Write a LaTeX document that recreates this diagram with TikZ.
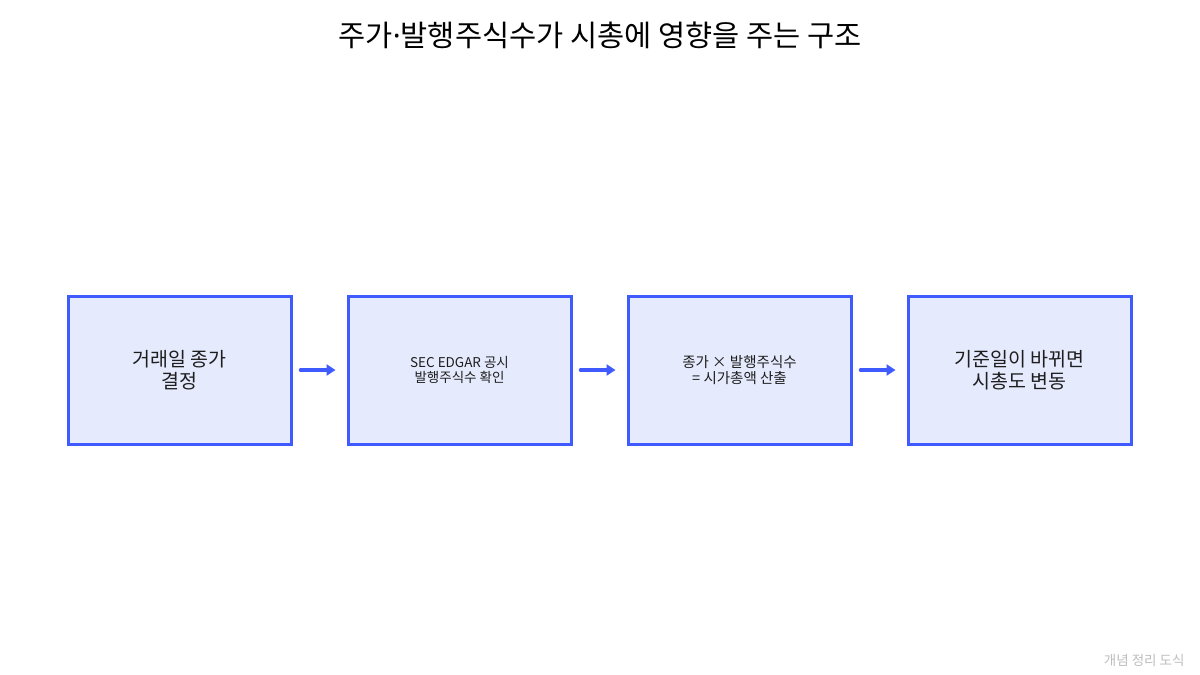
\documentclass[tikz,border=0pt]{standalone}
\usepackage{fontspec}
\setmainfont{Noto Sans CJK KR}
\newfontfamily\dotfont{Noto Sans}
\usetikzlibrary{arrows.meta}
\definecolor{edgeblue}{HTML}{3F5BFF}
\definecolor{boxfill}{HTML}{E5EAFD}
\definecolor{inkgray}{HTML}{1E1E1E}
\definecolor{notegray}{HTML}{BDBDBD}

\begin{document}
\begin{tikzpicture}[x=1pt,y=-1pt,
  stagebox/.style={draw=edgeblue,fill=boxfill,line width=3pt,minimum width=223pt,
    minimum height=148pt,inner sep=0pt,align=center,text=inkgray},
  flow/.style={draw=edgeblue,line width=3.5pt,line cap=round,-{Triangle[length=9pt,width=11pt]},
    shorten <=8pt,shorten >=11pt}]
  \useasboundingbox (0,0) rectangle (1200,675);
  \node[text=black,font=\fontsize{29.5}{34}\selectfont] (title) at (600,35) {주가{\dotfont·}발행주식수가 시총에 영향을 주는 구조};
  % four stages
  \node[stagebox,font=\fontsize{19.5}{22}\selectfont] (close) at (179.5,370) {거래일 종가\\결정};
  \node[stagebox,font=\fontsize{13.5}{15}\selectfont] (edgar) at (459.5,370) {SEC EDGAR 공시\\발행주식수 확인};
  \node[stagebox,font=\fontsize{14.5}{16.5}\selectfont] (mcap) at (739.5,370) {종가 × 발행주식수\\= 시가총액 산출};
  \node[stagebox,font=\fontsize{19.5}{22}\selectfont] (shift) at (1019.5,370) {기준일이 바뀌면\\시총도 변동};
  \draw[flow] (close.east) -- (edgar.west);
  \draw[flow] (edgar.east) -- (mcap.west);
  \draw[flow] (mcap.east) -- (shift.west);
  \node[text=notegray,font=\fontsize{13.5}{15}\selectfont,anchor=east] (note) at (1188,660) {개념 정리 도식};
\end{tikzpicture}
\end{document}
